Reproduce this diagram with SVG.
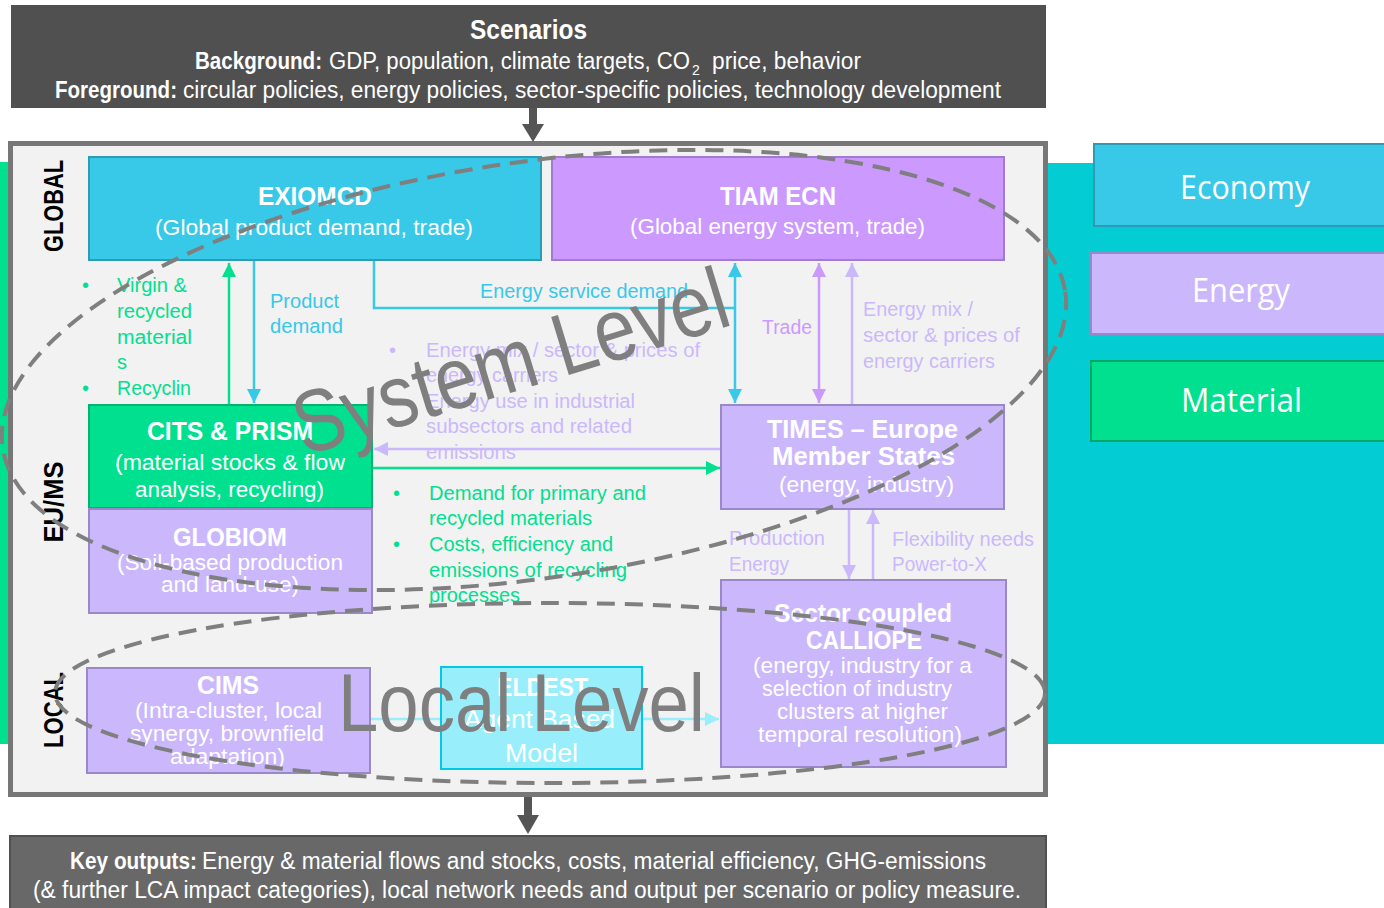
<svg xmlns="http://www.w3.org/2000/svg" width="1384" height="908" viewBox="0 0 1384 908">
<defs>
<style>
text{font-family:"Liberation Sans",Arial,sans-serif}
.nar{font-family:"Liberation Sans Narrow","Liberation Sans",Arial,sans-serif}
.ttl{font-weight:bold;font-size:26px;fill:#fff}
.sub{font-size:22px;fill:#fff}
.lbl{font-size:20px}
.hd{font-size:23px;fill:#fff}
.cy{fill:#38C8E8}
.gr{fill:#00E08F}
.pu{fill:#CC99FF}
.lp{fill:#CBB8FC}
.bc{fill:#38C8E8;stroke:#2C9BB3;stroke-width:2}
.bp{fill:#CC99FF;stroke:#A07CD0;stroke-width:2}
.bl{fill:#CBB8FC;stroke:#9A88C8;stroke-width:2}
.bg{fill:#00E08F;stroke:#00B372;stroke-width:2}
.be{fill:#99EEFC;stroke:#00C8E6;stroke-width:2}
.c{fill:none;stroke-width:2.5}
.sc{stroke:#38C8E8}
.sg{stroke:#00E08F}
.sp{stroke:#C99AFB}
.sl{stroke:#CBB8FC}
.se{stroke:#99EEFC}
.ell{fill:none;stroke:#7F7F7F;stroke-width:4;stroke-dasharray:18 10}
.big{fill:#7F7F7F}
.rot{font-weight:bold;font-size:28px;fill:#000}
.leg{font-family:"Open Sans","Liberation Sans",sans-serif;font-size:32px;fill:#fff}
</style>
<marker id="mc" viewBox="0 0 14 14" refX="14" refY="7" markerWidth="14" markerHeight="14" markerUnits="userSpaceOnUse" orient="auto-start-reverse"><path d="M0,0 L14,7 L0,14 z" fill="#38C8E8"/></marker>
<marker id="mg" viewBox="0 0 14 14" refX="14" refY="7" markerWidth="14" markerHeight="14" markerUnits="userSpaceOnUse" orient="auto-start-reverse"><path d="M0,0 L14,7 L0,14 z" fill="#00E08F"/></marker>
<marker id="mp" viewBox="0 0 14 14" refX="14" refY="7" markerWidth="14" markerHeight="14" markerUnits="userSpaceOnUse" orient="auto-start-reverse"><path d="M0,0 L14,7 L0,14 z" fill="#C99AFB"/></marker>
<marker id="ml" viewBox="0 0 14 14" refX="14" refY="7" markerWidth="14" markerHeight="14" markerUnits="userSpaceOnUse" orient="auto-start-reverse"><path d="M0,0 L14,7 L0,14 z" fill="#CBB8FC"/></marker>
<marker id="me" viewBox="0 0 14 14" refX="14" refY="7" markerWidth="14" markerHeight="14" markerUnits="userSpaceOnUse" orient="auto-start-reverse"><path d="M0,0 L14,7 L0,14 z" fill="#99EEFC"/></marker>
</defs>

<!-- background bands -->
<rect x="0" y="162" width="60" height="582" fill="#00E08F"/>
<rect x="1000" y="163" width="384" height="581" fill="#03CDD2"/>

<!-- scenarios header -->
<g id="scenarios">
<rect x="11" y="5" width="1035" height="103" fill="#505050"/>
<text class="hd nar" x="528.5" y="39" text-anchor="middle" style="font-size:28px;font-weight:bold" textLength="117" lengthAdjust="spacingAndGlyphs">Scenarios</text>
<text class="hd nar" x="195" y="69" font-weight="bold" textLength="127" lengthAdjust="spacingAndGlyphs">Background:</text>
<text class="hd nar" x="329" y="69" textLength="361" lengthAdjust="spacingAndGlyphs">GDP, population, climate targets, CO</text>
<text class="hd nar" x="692" y="75" style="font-size:14px">2</text>
<text class="hd nar" x="712" y="69" textLength="149" lengthAdjust="spacingAndGlyphs">price, behavior</text>
<text class="hd nar" x="55" y="98" font-weight="bold" textLength="122" lengthAdjust="spacingAndGlyphs">Foreground:</text>
<text class="hd nar" x="183" y="98" textLength="818" lengthAdjust="spacingAndGlyphs">circular policies, energy policies, sector-specific policies, technology development</text>
</g>

<!-- main frame -->
<g id="frame">
<rect x="10.5" y="143.5" width="1035" height="651" fill="#F2F2F2" stroke="#777777" stroke-width="5"/>
<text class="rot" transform="translate(63,206) rotate(-90)" text-anchor="middle" textLength="92" lengthAdjust="spacingAndGlyphs">GLOBAL</text>
<text class="rot" transform="translate(63,502) rotate(-90)" text-anchor="middle" textLength="81" lengthAdjust="spacingAndGlyphs">EU/MS</text>
<text class="rot" transform="translate(63,710) rotate(-90)" text-anchor="middle" textLength="76" lengthAdjust="spacingAndGlyphs">LOCAL</text>
</g>

<!-- arrows between header / frame / outputs -->
<g id="io-arrows" fill="#555555">
<rect x="529" y="108" width="8" height="18"/>
<polygon points="522,124 544,124 533,142"/>
<rect x="524" y="797" width="8" height="20"/>
<polygon points="517,815 539,815 528,834"/>
</g>

<!-- connectors -->
<g id="connectors">
<line class="c sg" x1="229" y1="404" x2="229" y2="263" marker-end="url(#mg)"/>
<line class="c sc" x1="254" y1="261" x2="254" y2="403" marker-end="url(#mc)"/>
<path class="c sc" d="M374,261 V308 H735" stroke-width="1.6"/>
<line class="c sc" x1="735" y1="263" x2="735" y2="403" marker-start="url(#mc)" marker-end="url(#mc)"/>
<line class="c sp" x1="819" y1="263" x2="819" y2="403" marker-start="url(#mp)" marker-end="url(#mp)"/>
<line class="c sl" x1="852" y1="404" x2="852" y2="263" marker-end="url(#ml)"/>
<line class="c sl" x1="720" y1="449" x2="374" y2="449" marker-end="url(#ml)"/>
<line class="c sg" x1="373" y1="468" x2="720" y2="468" marker-end="url(#mg)"/>
<line class="c sl" x1="849" y1="509" x2="849" y2="579" marker-end="url(#ml)"/>
<line class="c sl" x1="873" y1="580" x2="873" y2="510" marker-end="url(#ml)"/>
<line class="c se" x1="370" y1="719" x2="719" y2="719" marker-end="url(#me)"/>
</g>

<!-- connector labels -->
<g id="labels" class="lbl">
<text class="cy lbl" x="270" y="308" textLength="69" lengthAdjust="spacingAndGlyphs">Product</text>
<text class="cy lbl" x="270" y="333" textLength="73" lengthAdjust="spacingAndGlyphs">demand</text>
<text class="cy lbl" x="480" y="298" textLength="208" lengthAdjust="spacingAndGlyphs">Energy service demand</text>
<text class="pu lbl" x="762" y="334" textLength="50" lengthAdjust="spacingAndGlyphs">Trade</text>
<text class="lp lbl" x="863" y="316" textLength="110" lengthAdjust="spacingAndGlyphs">Energy mix /</text>
<text class="lp lbl" x="863" y="342" textLength="157" lengthAdjust="spacingAndGlyphs">sector &amp; prices of</text>
<text class="lp lbl" x="863" y="368" textLength="132" lengthAdjust="spacingAndGlyphs">energy carriers</text>

<text class="gr lbl" x="82" y="292">•</text>
<text class="gr lbl" x="117" y="292" textLength="70" lengthAdjust="spacingAndGlyphs">Virgin &amp;</text>
<text class="gr lbl" x="117" y="318" textLength="75" lengthAdjust="spacingAndGlyphs">recycled</text>
<text class="gr lbl" x="117" y="344" textLength="75" lengthAdjust="spacingAndGlyphs">material</text>
<text class="gr lbl" x="117" y="369">s</text>
<text class="gr lbl" x="82" y="395">•</text>
<text class="gr lbl" x="117" y="395" textLength="74" lengthAdjust="spacingAndGlyphs">Recyclin</text>

<text class="lp lbl" x="389" y="357">•</text>
<text class="lp lbl" x="426" y="357" textLength="274" lengthAdjust="spacingAndGlyphs">Energy mix / sector &amp; prices of</text>
<text class="lp lbl" x="426" y="382" textLength="132" lengthAdjust="spacingAndGlyphs">energy carriers</text>
<text class="lp lbl" x="389" y="408">•</text>
<text class="lp lbl" x="426" y="408" textLength="209" lengthAdjust="spacingAndGlyphs">Energy use in industrial</text>
<text class="lp lbl" x="426" y="433" textLength="206" lengthAdjust="spacingAndGlyphs">subsectors and related</text>
<text class="lp lbl" x="426" y="459" textLength="90" lengthAdjust="spacingAndGlyphs">emissions</text>

<text class="gr lbl" x="393" y="500">•</text>
<text class="gr lbl" x="429" y="500" textLength="217" lengthAdjust="spacingAndGlyphs">Demand for primary and</text>
<text class="gr lbl" x="429" y="525" textLength="163" lengthAdjust="spacingAndGlyphs">recycled materials</text>
<text class="gr lbl" x="393" y="551">•</text>
<text class="gr lbl" x="429" y="551" textLength="184" lengthAdjust="spacingAndGlyphs">Costs, efficiency and</text>
<text class="gr lbl" x="429" y="577" textLength="198" lengthAdjust="spacingAndGlyphs">emissions of recycling</text>
<text class="gr lbl" x="429" y="602" textLength="91" lengthAdjust="spacingAndGlyphs">processes</text>

<text class="lp lbl" x="729" y="545" textLength="96" lengthAdjust="spacingAndGlyphs">Production</text>
<text class="lp lbl" x="729" y="571" textLength="60" lengthAdjust="spacingAndGlyphs">Energy</text>
<text class="lp lbl" x="892" y="546" textLength="142" lengthAdjust="spacingAndGlyphs">Flexibility needs</text>
<text class="lp lbl" x="892" y="571" textLength="95" lengthAdjust="spacingAndGlyphs">Power-to-X</text>
</g>

<!-- nodes -->
<g id="exiomcd">
<rect class="bc" x="89" y="157" width="452" height="103"/>
<text class="ttl nar" x="315" y="205" text-anchor="middle" textLength="114" lengthAdjust="spacingAndGlyphs">EXIOMCD</text>
<text class="sub" x="314" y="235" text-anchor="middle" textLength="318" lengthAdjust="spacingAndGlyphs">(Global product demand, trade)</text>
</g>
<g id="tiam-ecn">
<rect class="bp" x="552" y="157" width="452" height="103"/>
<text class="ttl nar" x="778" y="205" text-anchor="middle" textLength="116" lengthAdjust="spacingAndGlyphs">TIAM ECN</text>
<text class="sub" x="777.5" y="234" text-anchor="middle" textLength="295" lengthAdjust="spacingAndGlyphs">(Global energy system, trade)</text>
</g>
<g id="cits-prism">
<rect class="bg" x="89" y="405" width="283" height="103"/>
<text class="ttl nar" x="230" y="440" text-anchor="middle" textLength="166" lengthAdjust="spacingAndGlyphs">CITS &amp; PRISM</text>
<text class="sub nar" x="230" y="470" text-anchor="middle" textLength="230" lengthAdjust="spacingAndGlyphs">(material stocks &amp; flow</text>
<text class="sub nar" x="229.5" y="497" text-anchor="middle" textLength="189" lengthAdjust="spacingAndGlyphs">analysis, recycling)</text>
</g>
<g id="globiom">
<rect class="bl" x="89" y="509" width="283" height="104"/>
<text class="ttl nar" x="230" y="546" text-anchor="middle" textLength="114" lengthAdjust="spacingAndGlyphs">GLOBIOM</text>
<text class="sub nar" x="230" y="570" text-anchor="middle" textLength="226" lengthAdjust="spacingAndGlyphs">(Soil-based production</text>
<text class="sub nar" x="230" y="592" text-anchor="middle" textLength="138" lengthAdjust="spacingAndGlyphs">and land-use)</text>
</g>
<g id="times-europe">
<rect class="bl" x="721" y="405" width="283" height="104"/>
<text class="ttl" x="862.5" y="438" text-anchor="middle" textLength="191" lengthAdjust="spacingAndGlyphs">TIMES – Europe</text>
<text class="ttl" x="863.5" y="465" text-anchor="middle" textLength="183" lengthAdjust="spacingAndGlyphs">Member States</text>
<text class="sub" x="866.5" y="492" text-anchor="middle" textLength="175" lengthAdjust="spacingAndGlyphs">(energy, industry)</text>
</g>
<g id="calliope">
<rect class="bl" x="721" y="580" width="285" height="187"/>
<text class="ttl nar" x="863" y="622" text-anchor="middle" textLength="178" lengthAdjust="spacingAndGlyphs">Sector coupled</text>
<text class="ttl nar" x="864" y="649" text-anchor="middle" textLength="116" lengthAdjust="spacingAndGlyphs">CALLIOPE</text>
<text class="sub nar" x="862.5" y="673" text-anchor="middle" textLength="219" lengthAdjust="spacingAndGlyphs">(energy, industry for a</text>
<text class="sub nar" x="857" y="696" text-anchor="middle" textLength="190" lengthAdjust="spacingAndGlyphs">selection of industry</text>
<text class="sub nar" x="862.5" y="719" text-anchor="middle" textLength="171" lengthAdjust="spacingAndGlyphs">clusters at higher</text>
<text class="sub nar" x="860" y="742" text-anchor="middle" textLength="204" lengthAdjust="spacingAndGlyphs">temporal resolution)</text>
</g>
<g id="cims">
<rect class="bl" x="87" y="668" width="283" height="105"/>
<text class="ttl nar" x="228" y="694" text-anchor="middle" textLength="62" lengthAdjust="spacingAndGlyphs">CIMS</text>
<text class="sub nar" x="228.5" y="718" text-anchor="middle" textLength="187" lengthAdjust="spacingAndGlyphs">(Intra-cluster, local</text>
<text class="sub nar" x="227" y="741" text-anchor="middle" textLength="194" lengthAdjust="spacingAndGlyphs">synergy, brownfield</text>
<text class="sub nar" x="227.5" y="764" text-anchor="middle" textLength="115" lengthAdjust="spacingAndGlyphs">adaptation)</text>
</g>
<g id="eldest">
<rect class="be" x="441" y="667" width="201" height="102"/>
<text class="ttl nar" x="542.5" y="696" text-anchor="middle" textLength="91" lengthAdjust="spacingAndGlyphs">ELDEST</text>
<text class="sub nar" x="539.5" y="728" text-anchor="middle" style="font-size:25px" textLength="151" lengthAdjust="spacingAndGlyphs">Agent Based</text>
<text class="sub nar" x="541.5" y="762" text-anchor="middle" style="font-size:25px" textLength="73" lengthAdjust="spacingAndGlyphs">Model</text>
</g>

<!-- level ellipses -->
<g id="system-level">
<ellipse class="ell" cx="534" cy="370" rx="537" ry="208" transform="rotate(-8.35 534 370)"/>
<text class="big" transform="translate(304,456) rotate(-17)" font-size="88" textLength="450" lengthAdjust="spacingAndGlyphs">System Level</text>
</g>
<g id="local-level">
<ellipse class="ell" cx="550" cy="693" rx="495" ry="90"/>
<text class="big" x="338" y="731" font-size="82" textLength="367" lengthAdjust="spacingAndGlyphs">Local Level</text>
</g>

<!-- key outputs -->
<g id="key-outputs">
<rect x="10" y="836" width="1036" height="80" fill="#686868" stroke="#505050" stroke-width="2"/>
<text class="hd nar" x="70" y="869" font-weight="bold" textLength="127" lengthAdjust="spacingAndGlyphs">Key outputs:</text>
<text class="hd nar" x="202" y="869" textLength="784" lengthAdjust="spacingAndGlyphs">Energy &amp; material flows and stocks, costs, material efficiency, GHG-emissions</text>
<text class="hd nar" x="33" y="898" textLength="988" lengthAdjust="spacingAndGlyphs">(&amp; further LCA impact categories), local network needs and output per scenario or policy measure.</text>
</g>

<!-- legend -->
<g id="legend-economy">
<rect x="1094" y="144" width="300" height="82" fill="#38C8E8" stroke="#2C9BB3" stroke-width="2"/>
<text class="leg" x="1245" y="199" text-anchor="middle" textLength="130" lengthAdjust="spacingAndGlyphs">Economy</text>
</g>
<g id="legend-energy">
<rect x="1091" y="253" width="300" height="81" fill="#CBB8FC" stroke="#9A88C8" stroke-width="2"/>
<text class="leg" x="1241" y="302" text-anchor="middle" textLength="98" lengthAdjust="spacingAndGlyphs">Energy</text>
</g>
<g id="legend-material">
<rect x="1091" y="361" width="300" height="80" fill="#00E08F" stroke="#00A866" stroke-width="2"/>
<text class="leg" x="1241.5" y="412" text-anchor="middle" textLength="121" lengthAdjust="spacingAndGlyphs">Material</text>
</g>
</svg>
